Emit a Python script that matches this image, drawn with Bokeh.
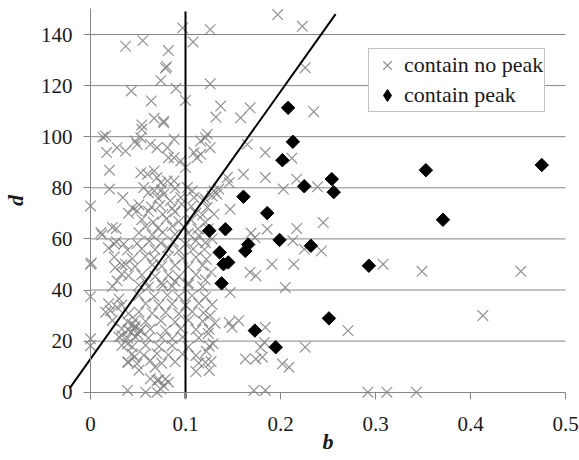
import math
from bokeh.plotting import figure
from bokeh.models import Range1d, FixedTicker, Legend, LegendItem
from bokeh.embed import file_html
from bokeh.resources import INLINE

# ---------------- data ----------------
x_ticks = [0, 0.1, 0.2, 0.3, 0.4, 0.5]
x_tick_labels = ["0", "0.1", "0.2", "0.3", "0.4", "0.5"]
y_ticks = [0, 20, 40, 60, 80, 100, 120, 140]
y_tick_labels = ["0", "20", "40", "60", "80", "100", "120", "140"]

series_names = ["contain no peak", "contain peak"]

peak_b = [0.208, 0.213, 0.202, 0.225, 0.254, 0.256, 0.161, 0.186, 0.125, 0.142,
          0.199, 0.232, 0.166, 0.163, 0.136, 0.140, 0.145, 0.138, 0.173, 0.195,
          0.251, 0.353, 0.475, 0.371, 0.293]
peak_d = [111.3, 98.0, 90.8, 80.6, 83.4, 78.3, 76.5, 70.1, 63.2, 63.8,
          59.6, 57.3, 57.8, 55.3, 54.7, 50.1, 50.8, 42.6, 24.1, 17.6,
          28.9, 86.9, 88.9, 67.5, 49.5]

nopeak_b = [
    0.097, 0.126, 0.037, 0.055, 0.082, 0.108, 0.079, 0.080, 0.074, 0.090,
    0.126, 0.043, 0.064, 0.100, 0.067, 0.077, 0.054, 0.054, 0.016, 0.123,
    0.197, 0.223, 0.226, 0.137, 0.132, 0.168, 0.158, 0.235, 0.165, 0.184,
    0.212, 0.161, 0.184, 0.217, 0.239, 0.203, 0.144, 0.146, 0.135, 0.128,
    0.130, 0.133, 0.119, 0.123, 0.130, 0.147,
    0.013, 0.017, 0.028, 0.037, 0.020, 0.020, 0.034, 0.000, 0.044, 0.049,
    0.047, 0.049, 0.053, 0.063, 0.070, 0.081, 0.077, 0.088, 0.082, 0.088,
    0.095, 0.100, 0.053, 0.060, 0.067, 0.070, 0.074, 0.081, 0.088, 0.056,
    0.061, 0.067, 0.077, 0.084, 0.095, 0.102, 0.107, 0.109, 0.116, 0.121,
    0.109, 0.116, 0.112, 0.126,
    0.245, 0.217, 0.186, 0.169, 0.213, 0.225, 0.243, 0.173, 0.191, 0.214,
    0.168, 0.174, 0.205, 0.147, 0.156, 0.146, 0.149, 0.184, 0.183, 0.179,
    0.226, 0.163, 0.174, 0.181, 0.202, 0.209, 0.172, 0.184,
    0.308, 0.349, 0.453, 0.413, 0.271, 0.292, 0.312, 0.343,
    0.000, 0.001, 0.000, 0.000, 0.000, 0.011, 0.023, 0.025, 0.035, 0.026,
    0.033, 0.028, 0.037, 0.040, 0.021, 0.028, 0.030, 0.039, 0.058, 0.070,
    0.077, 0.082, 0.070, 0.033, 0.039, 0.046, 0.040, 0.049, 0.063, 0.068,
    0.075, 0.089, 0.071, 0.121,
    0.051, 0.064, 0.073, 0.086, 0.096, 0.106,
    0.040, 0.061, 0.076, 0.089, 0.111, 0.118,
    0.054, 0.066, 0.080, 0.093, 0.106, 0.121,
    0.027, 0.058, 0.071, 0.086, 0.099, 0.113,
    0.012, 0.051, 0.065, 0.076, 0.089, 0.103, 0.114,
    0.027, 0.049, 0.062, 0.074, 0.087, 0.100, 0.111, 0.121,
    0.019, 0.039, 0.054, 0.068, 0.081, 0.093, 0.108, 0.120,
    0.025, 0.044, 0.058, 0.067, 0.082, 0.097, 0.111,
    0.033, 0.047, 0.065, 0.075, 0.089, 0.103, 0.118,
    0.054, 0.068, 0.082, 0.093, 0.111,
    0.058, 0.075, 0.089, 0.103,
    0.023, 0.051, 0.061, 0.076, 0.086, 0.103, 0.118,
    0.051, 0.067, 0.081, 0.093, 0.107, 0.121,
    0.019, 0.033, 0.058, 0.072, 0.086, 0.100, 0.114, 0.128,
    0.016, 0.040, 0.051, 0.065, 0.079, 0.093, 0.107, 0.119,
    0.023, 0.039, 0.047, 0.058, 0.074, 0.089, 0.103, 0.118,
    0.033, 0.040, 0.046, 0.053, 0.063, 0.079, 0.095, 0.111, 0.125,
    0.030, 0.039, 0.047, 0.061, 0.075, 0.086, 0.097, 0.114,
    0.033, 0.044, 0.058, 0.072, 0.086, 0.103, 0.125,
    0.044, 0.056, 0.070, 0.082, 0.097, 0.111,
    0.039, 0.075, 0.089, 0.114, 0.121,
    0.051, 0.111, 0.125,
    0.063, 0.072, 0.079,
    0.074,
    0.124, 0.128, 0.122, 0.127, 0.121, 0.126, 0.131, 0.124, 0.129, 0.122, 0.127,
    0.043, 0.047, 0.050, 0.044, 0.052,
]
nopeak_d = [
    142.6, 141.9, 135.4, 137.6, 133.7, 137.1, 126.8, 127.5, 122.0, 118.9,
    120.7, 117.9, 114.0, 114.2, 107.2, 106.1, 104.6, 102.9, 100.3, 101.0,
    147.8, 143.2, 127.0, 112.0, 107.7, 111.3, 107.4, 109.8, 97.0, 93.8,
    91.6, 85.3, 84.0, 83.4, 80.4, 79.5, 84.0, 82.0, 79.5, 76.8,
    78.8, 77.5, 74.9, 72.3, 69.7, 71.6,
    99.9, 93.8, 95.7, 94.4, 86.9, 79.5, 76.2, 72.9, 72.1, 71.0,
    98.3, 97.0, 99.6, 97.0, 95.7, 95.7, 105.5, 99.0, 91.8, 91.8,
    90.5, 87.9, 85.9, 85.3, 86.6, 84.0, 82.0, 82.7, 82.7, 80.1,
    78.1, 78.8, 77.5, 74.9, 76.2, 80.1, 78.8, 76.2, 98.3, 99.6,
    93.8, 93.1, 91.8, 95.7,
    66.4, 64.1, 63.8, 62.3, 59.3, 56.0, 55.3, 60.5, 50.1, 50.1,
    46.9, 45.6, 41.0, 39.0, 28.0, 27.3, 25.4, 25.4, 19.5, 17.6,
    17.6, 13.0, 13.0, 13.7, 11.1, 9.8, 0.7, 0.7,
    50.1, 47.3, 47.3, 30.0, 24.1, 0.0, 0.0, 0.0,
    50.1, 50.6, 37.4, 20.9, 18.2, 62.5, 64.5, 58.0, 58.0, 48.8,
    46.2, 43.6, 50.1, 45.6, 31.9, 33.2, 36.5, 0.7, 0.0, 0.0,
    2.6, 3.9, 4.6, 22.1, 18.9, 13.7, 11.7, 11.1, 12.4, 9.8,
    79.2, 79.8, 76.0, 75.5,
    73.4, 72.5, 73.1, 72.0, 73.6, 72.7,
    70.0, 70.8, 69.6, 70.6, 70.1, 69.4,
    67.5, 66.6, 67.9, 66.8, 67.4, 66.5,
    64.0, 64.9, 64.2, 65.0, 64.4, 63.9,
    61.6, 62.4, 61.5, 62.6, 61.8, 62.2, 61.3,
    58.9, 58.2, 59.1, 58.4, 58.8, 58.0, 59.3, 58.5,
    56.4, 55.6, 56.2, 55.8, 56.6, 55.5, 56.1, 55.9,
    52.9, 52.3, 53.2, 52.5, 53.0, 52.4, 52.8,
    49.8, 49.2, 49.9, 49.3, 49.7, 49.1, 49.6,
    45.9, 45.3, 45.8, 45.2, 46.0,
    43.2, 42.8, 43.4, 42.7,
    41.4, 41.9, 41.2, 41.8, 41.5, 42.0, 41.3,
    37.9, 37.4, 38.0, 37.5, 37.8, 37.3,
    34.6, 34.1, 34.7, 34.2, 34.5, 34.0, 34.8, 34.3,
    31.3, 30.8, 31.4, 30.9, 31.2, 30.7, 31.5, 31.0,
    28.1, 27.6, 28.3, 27.7, 28.0, 27.5, 28.2, 27.8,
    24.8, 24.3, 24.9, 24.4, 24.7, 24.2, 24.8, 24.5, 24.6,
    21.6, 21.1, 21.7, 21.2, 21.5, 21.0, 21.6, 21.3,
    18.3, 17.8, 18.4, 17.9, 18.2, 17.7, 18.0,
    15.0, 14.5, 15.1, 14.6, 14.9, 14.4,
    11.8, 11.3, 11.9, 11.4, 11.7,
    8.6, 8.1, 8.5,
    5.3, 4.8, 5.2,
    1.2,
    64.0, 60.0, 52.0, 47.0, 44.0, 30.0, 27.0, 23.0, 19.0, 16.0, 12.0,
    23.5, 25.8, 22.5, 26.5, 24.0,
]

# threshold lines
threshold_b = 0.1
threshold_d = [-2.5, 149]
boundary_b = [-0.022, 0.258]
boundary_d = [1.5, 148.0]

# ---------------- figure ----------------
FONT = "'Liberation Serif'"
GRAY = "#868686"
TXT = "#1a1a1a"
W, H = 579, 460
X0_PX, PX_PER_B = 90.0, 950.0
Y0_PX, PX_PER_D = 391.7, 2.555

p = figure(width=W, height=H, output_backend="svg", toolbar_location=None,
           x_range=Range1d(-X0_PX / PX_PER_B, (W - X0_PX) / PX_PER_B),
           y_range=Range1d(-(H - Y0_PX) / PX_PER_D, Y0_PX / PX_PER_D),
           min_border_left=0, min_border_right=0, min_border_top=0,
           min_border_bottom=0)
p.outline_line_color = None
p.background_fill_color = "white"
p.border_fill_color = "white"
p.xgrid.visible = False
p.ygrid.visible = False

p.segment(x0=x_ticks[0], x1=x_ticks[-1], y0=y_ticks[1:], y1=y_ticks[1:],
          line_color=GRAY, line_width=1)

for ax, ticks, labels, bnd in ((p.xaxis[0], x_ticks, x_tick_labels, (0, 0.5)),
                               (p.yaxis[0], y_ticks, y_tick_labels, (0, 150))):
    ax.fixed_location = 0
    ax.bounds = bnd
    ax.ticker = FixedTicker(ticks=ticks)
    ax.major_label_overrides = {t: l for t, l in zip(ticks, labels)}
    ax.axis_line_color = GRAY
    ax.major_tick_line_color = GRAY
    ax.major_tick_out = 7
    ax.major_tick_in = 0
    ax.minor_tick_line_color = None
    ax.major_label_text_font = FONT
    ax.major_label_text_font_size = "21px"
    ax.major_label_text_color = TXT
    ax.axis_label_text_font = FONT
    ax.axis_label_text_font_size = "22px"
    ax.axis_label_text_font_style = "bold italic"
    ax.axis_label_text_color = TXT

p.xaxis.axis_label = "b"
p.yaxis.axis_label = "d"
p.xaxis.major_label_standoff = 18
p.yaxis.major_label_standoff = 11
p.xaxis.axis_label_standoff = -6
p.yaxis.axis_label_standoff = 10

r_no = p.scatter(nopeak_b, nopeak_d, marker="x", size=15, line_color="#808080",
                 line_alpha=0.85, line_width=1.2)

p.line([threshold_b, threshold_b], threshold_d, line_color="black", line_width=2)
p.line(boundary_b, boundary_d, line_color="black", line_width=2)

p.scatter(peak_b, peak_d, marker="square", angle=math.pi / 4, size=9.5,
          fill_color="black", line_color="black")
# legend swatch for the diamonds (legend swatches are drawn unrotated)
nan = float("nan")
r_pk_legend = p.scatter([nan], [nan], marker="diamond", size=16,
                        fill_color="black", line_color="black")

legend = Legend(items=[LegendItem(label=series_names[0], renderers=[r_no]),
                       LegendItem(label=series_names[1], renderers=[r_pk_legend])],
                location=(368, 348))
legend.label_text_font = FONT
legend.label_text_font_size = "22px"
legend.label_text_color = TXT
legend.border_line_color = GRAY
legend.border_line_width = 1
legend.background_fill_color = "white"
legend.background_fill_alpha = 1
legend.padding = 1
legend.spacing = -1
legend.margin = 0
legend.glyph_width = 34
legend.glyph_height = 30
legend.label_height = 20
legend.label_standoff = 0
p.add_layout(legend, "center")

open("out.html", "w").write(file_html(p, INLINE))
